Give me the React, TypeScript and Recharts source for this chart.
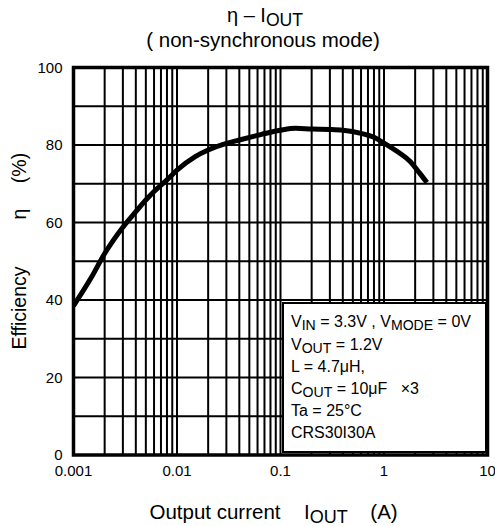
import React from 'react';
import {
  LineChart, Line, XAxis, YAxis, ReferenceLine, ReferenceArea,
} from 'recharts';

// Output current (A) and efficiency (%)
const CURRENT = [
  0.001, 0.0015, 0.002, 0.003, 0.004, 0.005, 0.006, 0.008, 0.01, 0.015,
  0.02, 0.03, 0.04, 0.06, 0.08, 0.1, 0.14, 0.2, 0.3, 0.4,
  0.6, 0.8, 1.0, 1.4, 1.8, 2.2, 2.6,
];
const EFFICIENCY = [
  38.5, 46, 52, 58.8, 62.8, 65.8, 68, 71, 73.5, 77,
  78.7, 80.4, 81.3, 82.5, 83.3, 83.8, 84.3, 84.1, 84, 83.8,
  83, 82, 80.5, 78, 75.7, 72.8, 70.3,
];

const X_TICKS = [0.001, 0.01, 0.1, 1, 10];
const Y_TICKS = [0, 20, 40, 60, 80, 100];
const X_GRID = [
  0.002, 0.003, 0.004, 0.005, 0.006, 0.007, 0.008, 0.009, 0.01,
  0.02, 0.03, 0.04, 0.05, 0.06, 0.07, 0.08, 0.09, 0.1,
  0.2, 0.3, 0.4, 0.5, 0.6, 0.7, 0.8, 0.9, 1,
  2, 3, 4, 5, 6, 7, 8, 9,
];
const Y_GRID = [10, 20, 30, 40, 50, 60, 70, 80, 90];

const data = CURRENT.map((i, k) => ({ i, eff: EFFICIENCY[k] }));

const FONT = '"Liberation Sans", Arial, sans-serif';

const Sub = ({ children }: { children: React.ReactNode }) => (
  <span style={{ fontSize: '0.88em', position: 'relative', top: '0.22em' }}>{children}</span>
);

const abs = (left: number, top: number, size: number, extra: React.CSSProperties = {}): React.CSSProperties => ({
  position: 'absolute', left, top, fontSize: size, fontFamily: FONT, color: '#000',
  whiteSpace: 'pre', transform: 'translate(-50%, -50%)', lineHeight: 1, ...extra,
});

const ROT = { transform: 'translate(-50%, -50%) rotate(-90deg)' };

export default function App() {
  return (
    <div style={{ position: 'absolute', left: 0, top: 0, width: 495, height: 526, background: '#fff' }}>
      <LineChart
        width={495}
        height={526}
        data={data}
        margin={{ top: 67.5, right: 7.5, left: 13.5, bottom: 41 }}
      >
        <XAxis
          dataKey="i"
          type="number"
          scale="log"
          domain={[0.001, 10]}
          ticks={X_TICKS}
          tickFormatter={(v) => String(v)}
          axisLine={false}
          tickLine={false}
          tickSize={0}
          tickMargin={10}
          height={30}
          tick={{ fill: '#000', fontSize: 15, fontFamily: FONT }}
          allowDataOverflow
        />
        <YAxis
          type="number"
          domain={[0, 100]}
          ticks={Y_TICKS}
          axisLine={false}
          tickLine={false}
          tickSize={0}
          tickMargin={11}
          width={60}
          tick={{ fill: '#000', fontSize: 15, fontFamily: FONT }}
        />
        {X_GRID.map((v) => (
          <ReferenceLine key={`x${v}`} x={v} stroke="#000" strokeWidth={2} />
        ))}
        {Y_GRID.map((v) => (
          <ReferenceLine key={`y${v}`} y={v} stroke="#000" strokeWidth={2} />
        ))}
        <Line
          dataKey="eff"
          type="monotone"
          stroke="#000"
          strokeWidth={5}
          dot={false}
          isAnimationActive={false}
        />
        <ReferenceArea x1={0.001} x2={10} y1={0} y2={100} fill="none" stroke="#000" strokeWidth={3.5} />
      </LineChart>

      {/* titles */}
      <div style={abs(265, 15, 20)}>η – I<Sub>OUT</Sub></div>
      <div style={abs(263, 40, 20.5)}>( non-synchronous mode)</div>

      {/* y label */}
      <div style={abs(20, 308, 19.5, ROT)}>Efficiency</div>
      <div style={abs(20, 214, 19.5, ROT)}>η</div>
      <div style={abs(20, 168, 19.5, ROT)}>(%)</div>

      {/* x label */}
      <div style={abs(215, 512, 20.5)}>Output current</div>
      <div style={abs(326, 512, 20.5)}>I<Sub>OUT</Sub></div>
      <div style={abs(384, 512, 20.5)}>(A)</div>

      {/* condition box */}
      <div
        style={{
          position: 'absolute', left: 282, top: 302, width: 205, height: 151,
          boxSizing: 'border-box', border: '2px solid #000', background: '#fff',
          fontFamily: FONT, fontSize: 16, lineHeight: '21.5px', padding: '7px 0 0 7px',
          whiteSpace: 'pre', color: '#000',
        }}
      >
        <div>V<Sub>IN</Sub> = 3.3V , V<Sub>MODE</Sub> = 0V</div>
        <div>V<Sub>OUT</Sub> = 1.2V</div>
        <div>L = 4.7μH,</div>
        <div>C<Sub>OUT</Sub> = 10μF   ×3</div>
        <div>Ta = 25°C</div>
        <div>CRS30I30A</div>
      </div>
    </div>
  );
}
